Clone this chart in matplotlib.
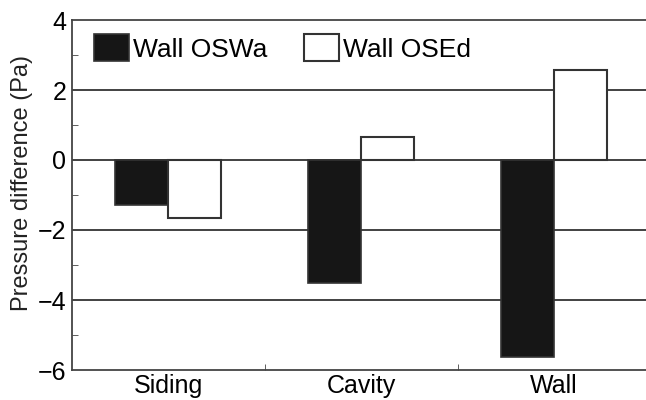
import numpy as np
import matplotlib
matplotlib.use("Agg")
import matplotlib.pyplot as plt

categories = ["Siding", "Cavity", "Wall"]
oswa = [-1.3, -3.5, -5.63]
osed = [-1.66, 0.65, 2.57]

plt.rcParams['font.family'] = ['Liberation Sans', 'DejaVu Sans']

fig = plt.figure(figsize=(6.46, 4.0), dpi=100)
ax = fig.add_axes([0.1115, 0.075, 0.8885, 0.875])

x = np.arange(len(categories))
w = 0.275
edge = "#333333"
b1 = ax.bar(x - w / 2, oswa, w, color="#161616", edgecolor=edge, linewidth=1.2,
            label="Wall OSWa", zorder=3)
b2 = ax.bar(x + w / 2, osed, w, color="white", edgecolor=edge, linewidth=1.5,
            label="Wall OSEd", zorder=3)

for yv in [2, 0, -2, -4]:
    ax.axhline(yv, color="#333333", linewidth=1.3, zorder=1)

ax.set_ylim(-6, 4)
ax.set_xlim(-0.5, 2.477)
ax.set_yticks([-6, -4, -2, 0, 2, 4])
ax.set_yticks([-5, -3, -1, 1, 3], minor=True)
ax.set_xticks([0.5, 1.5], minor=True)
ax.set_xticks(x)
ax.set_xticklabels(categories)
ax.tick_params(axis="y", which="major", labelsize=18, length=0, pad=4)
ax.tick_params(axis="y", which="minor", direction="in", length=4, color="#444444")
ax.tick_params(axis="x", which="major", labelsize=18, length=0, pad=3)
ax.tick_params(axis="x", which="minor", direction="in", length=4, color="#444444")
ax.set_ylabel("Pressure difference (Pa)", fontsize=17, color="#222222")
ax.yaxis.set_label_coords(-0.068, 0.535)

for s in ["left", "top", "bottom"]:
    ax.spines[s].set_color("#444444")
    ax.spines[s].set_linewidth(1.3)
ax.spines["right"].set_visible(False)

ax.legend(handles=[b1, b2], loc="upper left", ncol=2, frameon=False, fontsize=19,
          handlelength=1.33, handleheight=1.2, handletextpad=0.15, columnspacing=1.4,
          bbox_to_anchor=(0.01, 1.005), borderaxespad=0.2)

fig.savefig("out.png", dpi=100)
